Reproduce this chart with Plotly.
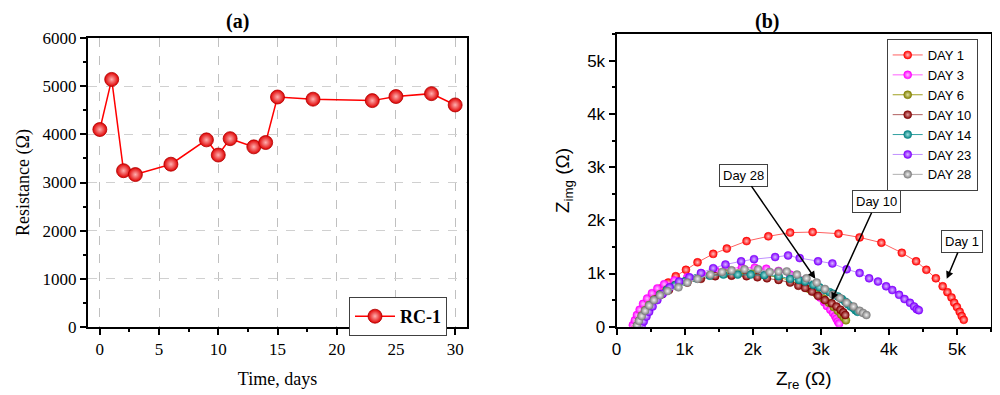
import numpy as np
import plotly.graph_objects as go

# ---------------- Panel (a) data ----------------
days = [0, 1, 2, 3, 6, 9, 10, 11, 13, 14, 15, 18, 23, 25, 28, 30]
resistance = [4100, 5140, 3245, 3165, 3380, 3885, 3570, 3910, 3740, 3830, 4775, 4730, 4700, 4785, 4845, 4610]

# ---------------- Panel (b) data (kOhm) ----------------
d1_re = [0.27, 0.30, 0.33, 0.37, 0.42, 0.49, 0.56, 0.65, 0.76, 0.87, 1.02, 1.19, 1.42, 1.62, 1.91, 2.23, 2.55,
         2.88, 3.26, 3.57, 3.89, 4.19, 4.40, 4.55, 4.69, 4.79, 4.86, 4.92, 4.96, 5.00, 5.04, 5.07, 5.10]
d1_im = [0.03, 0.10, 0.18, 0.27, 0.38, 0.50, 0.61, 0.72, 0.83, 0.95, 1.07, 1.21, 1.37, 1.47, 1.61, 1.70, 1.77,
         1.78, 1.75, 1.68, 1.58, 1.39, 1.23, 1.07, 0.91, 0.76, 0.65, 0.55, 0.45, 0.37, 0.28, 0.20, 0.13]

d3_re = [0.24, 0.27, 0.30, 0.34, 0.39, 0.45, 0.52, 0.60, 0.70, 0.85, 1.04, 1.25, 1.45, 1.61, 1.84, 2.03, 2.20,
         2.38, 2.55, 2.70, 2.83, 2.92, 2.99, 3.05, 3.09, 3.14, 3.18, 3.21, 3.23, 3.25, 3.27]
d3_im = [0.03, 0.12, 0.22, 0.32, 0.43, 0.53, 0.63, 0.72, 0.80, 0.87, 0.93, 1.00, 1.06, 1.10, 1.11, 1.11, 1.09,
         1.05, 0.98, 0.88, 0.76, 0.65, 0.55, 0.46, 0.39, 0.32, 0.26, 0.20, 0.15, 0.10, 0.06]

d6_re = [0.30, 0.33, 0.37, 0.42, 0.48, 0.55, 0.64, 0.74, 0.87, 1.02, 1.20, 1.40, 1.60, 1.80, 2.00, 2.20, 2.38,
         2.55, 2.70, 2.83, 2.94, 3.04, 3.12, 3.19, 3.25, 3.30, 3.34, 3.37]
d6_im = [0.02, 0.11, 0.21, 0.31, 0.41, 0.51, 0.61, 0.70, 0.79, 0.86, 0.92, 0.97, 1.00, 1.01, 1.00, 0.97, 0.93,
         0.87, 0.79, 0.71, 0.62, 0.53, 0.45, 0.37, 0.30, 0.23, 0.17, 0.12]

d10_re = [0.33, 0.36, 0.40, 0.45, 0.51, 0.58, 0.67, 0.77, 0.89, 1.04, 1.24, 1.45, 1.69, 1.91, 2.07, 2.21, 2.38,
          2.55, 2.67, 2.77, 2.87, 2.96, 3.06, 3.16, 3.23, 3.29, 3.33, 3.36]
d10_im = [0.02, 0.11, 0.21, 0.31, 0.41, 0.51, 0.61, 0.69, 0.77, 0.83, 0.90, 0.95, 0.96, 0.95, 0.93, 0.91, 0.88,
          0.83, 0.77, 0.73, 0.66, 0.58, 0.50, 0.44, 0.38, 0.32, 0.27, 0.22]

d14_re = [0.31, 0.34, 0.38, 0.43, 0.49, 0.56, 0.64, 0.74, 0.86, 1.00, 1.17, 1.37, 1.57, 1.78, 1.97, 2.17, 2.38,
          2.55, 2.68, 2.77, 2.89, 2.98, 3.06, 3.13, 3.18, 3.25, 3.31, 3.36, 3.40, 3.44, 3.48, 3.51, 3.54]
d14_im = [0.02, 0.11, 0.20, 0.30, 0.40, 0.50, 0.60, 0.69, 0.78, 0.85, 0.91, 0.96, 0.98, 0.98, 0.98, 0.97, 0.95,
          0.90, 0.88, 0.85, 0.79, 0.74, 0.69, 0.65, 0.62, 0.57, 0.52, 0.47, 0.42, 0.38, 0.35, 0.31, 0.28]

d23_re = [0.37, 0.40, 0.44, 0.48, 0.53, 0.60, 0.68, 0.78, 0.92, 1.07, 1.24, 1.42, 1.60, 1.83, 2.02, 2.33, 2.52,
          2.69, 2.96, 3.17, 3.38, 3.57, 3.71, 3.84, 3.96, 4.05, 4.15, 4.23, 4.31, 4.37, 4.41, 4.44]
d23_im = [0.02, 0.10, 0.19, 0.28, 0.38, 0.50, 0.62, 0.74, 0.85, 0.93, 1.01, 1.10, 1.17, 1.23, 1.27, 1.31, 1.34,
          1.29, 1.23, 1.19, 1.08, 1.01, 0.91, 0.85, 0.76, 0.69, 0.60, 0.52, 0.45, 0.38, 0.33, 0.31]

d28_re = [0.30, 0.33, 0.37, 0.42, 0.48, 0.55, 0.64, 0.75, 0.91, 1.04, 1.19, 1.38, 1.55, 1.69, 1.88, 2.08, 2.25,
          2.38, 2.50, 2.65, 2.79, 2.94, 3.06, 3.18, 3.28, 3.38, 3.48, 3.57, 3.62, 3.67]
d28_im = [0.02, 0.11, 0.20, 0.30, 0.40, 0.50, 0.59, 0.67, 0.74, 0.83, 0.90, 0.98, 1.03, 1.06, 1.08, 1.08, 1.03,
          1.04, 1.04, 0.98, 0.91, 0.83, 0.71, 0.60, 0.54, 0.45, 0.38, 0.30, 0.26, 0.22]

series_names = ["DAY 1", "DAY 3", "DAY 6", "DAY 10", "DAY 14", "DAY 23", "DAY 28"]
series_re = [d1_re, d3_re, d6_re, d10_re, d14_re, d23_re, d28_re]
series_im = [d1_im, d3_im, d6_im, d10_im, d14_im, d23_im, d28_im]
marker_colors = ["#ff0000", "#ff00ff", "#808000", "#800000", "#008080", "#8000ff", "#808080"]
line_colors = ["#ff6060", "#ff60ff", "#a0a020", "#b06060", "#30a0a0", "#c090ff", "#b0b0b0"]
hilite_colors = ["#ffc0c0", "#ffc0ff", "#e0e0a0", "#e0a0a0", "#a0e0e0", "#d8b8ff", "#f0f0f0"]

# annotations (label, tip re, tip im, box re, box im) in kOhm
ann_labels = ["Day 28", "Day 10", "Day 1"]
ann_tip_re = [2.92, 3.16, 4.85]
ann_tip_im = [0.90, 0.50, 0.90]
ann_box_re = [1.87, 3.82, 5.08]
ann_box_im = [2.85, 2.35, 1.60]

xa_ticks = [0, 5, 10, 15, 20, 25, 30]
ya_ticks = [0, 1000, 2000, 3000, 4000, 5000, 6000]
zb_ticks = [0, 1000, 2000, 3000, 4000, 5000]
zb_labels = ["0", "1k", "2k", "3k", "4k", "5k"]

# page has an 8px body margin; the figure is sized to fit the 1000x395 window
OFF = 8
W, H = 1000 - OFF, 395 - OFF


def PX(px):
    return (px - OFF) / W


def PY(py):
    return 1 - (py - OFF) / H


serif = "Liberation Serif"
sans = "Liberation Sans"

fig = go.Figure()

fig.add_trace(go.Scatter(
    x=days, y=resistance, mode="lines+markers", name="<b>RC-1</b>",
    line=dict(color="#ff0000", width=1.5),
    marker=dict(size=14, color="#e00000", line=dict(color="#b00000", width=0.8),
                gradient=dict(type="radial", color="#ffb0b0")),
    xaxis="x", yaxis="y", legend="legend",
))

for name, re, im, mc, lc, hc in zip(series_names, series_re, series_im, marker_colors, line_colors, hilite_colors):
    fig.add_trace(go.Scatter(
        x=np.array(re) * 1000, y=np.array(im) * 1000, mode="lines+markers", name=name,
        line=dict(color=lc, width=1),
        marker=dict(size=8, color=mc, line=dict(color=mc, width=0.5),
                    gradient=dict(type="radial", color=hc)),
        xaxis="x2", yaxis="y2", legend="legend2",
    ))

annotations = [
    dict(text="<b>(a)</b>", x=PX(237), y=PY(21.5), xref="paper", yref="paper", showarrow=False,
         xanchor="center", yanchor="middle",
         font=dict(family=serif, size=20, color="black")),
    dict(text="<b>(b)</b>", x=PX(767), y=PY(21.5), xref="paper", yref="paper", showarrow=False,
         xanchor="center", yanchor="middle",
         font=dict(family=serif, size=20, color="black")),
]
for lab, tx, ty, bx, by in zip(ann_labels, ann_tip_re, ann_tip_im, ann_box_re, ann_box_im):
    annotations.append(dict(
        text=lab, x=tx * 1000, y=ty * 1000, ax=bx * 1000, ay=by * 1000,
        xref="x2", yref="y2", axref="x2", ayref="y2", showarrow=True,
        arrowhead=2, arrowsize=1, arrowwidth=1.5, arrowcolor="black",
        font=dict(family=sans, size=13, color="black"),
        bgcolor="white", bordercolor="#404040", borderwidth=1, borderpad=3,
    ))

fig.update_layout(
    width=W, height=H, margin=dict(l=0, r=0, t=0, b=0, autoexpand=False),
    paper_bgcolor="white", plot_bgcolor="white",
    annotations=annotations,
    xaxis=dict(domain=[PX(88), PX(467)], range=[-1, 31], tickvals=xa_ticks,
               showline=True, linecolor="black", linewidth=2, mirror=True,
               ticks="outside", ticklen=6, tickwidth=1.5, tickcolor="black",
               minor=dict(dtick=2.5, ticks="outside", ticklen=3, tickcolor="black", showgrid=False),
               showgrid=True, gridcolor="#c0c0c0", griddash="dash", gridwidth=1, zeroline=False,
               tickfont=dict(family=serif, size=17, color="black"),
               title=dict(text="Time, days", font=dict(family=serif, size=18, color="black"), standoff=14),
               anchor="y", automargin=False),
    yaxis=dict(domain=[PY(327), PY(38)], range=[0, 6000], tickvals=ya_ticks,
               showline=True, linecolor="black", linewidth=2, mirror=True,
               ticks="outside", ticklen=6, tickwidth=1.5, tickcolor="black",
               minor=dict(dtick=500, ticks="outside", ticklen=3, tickcolor="black", showgrid=False),
               showgrid=True, gridcolor="#d0d0d0", griddash="dash", gridwidth=1, zeroline=False,
               tickfont=dict(family=serif, size=17, color="black"),
               title=dict(text="Resistance (Ω)", font=dict(family=serif, size=18, color="black"), standoff=8),
               anchor="x", automargin=False),
    xaxis2=dict(domain=[PX(616.5), PX(991)], range=[0, 5500], tickvals=zb_ticks, ticktext=zb_labels,
                showline=True, linecolor="black", linewidth=2, mirror=True,
                ticks="outside", ticklen=6, tickwidth=1.5, tickcolor="black",
                minor=dict(dtick=500, ticks="outside", ticklen=3, tickcolor="black", showgrid=False),
                showgrid=False, zeroline=False,
                tickfont=dict(family=sans, size=17, color="black"),
                title=dict(text="Z<sub>re</sub> (Ω)", font=dict(family=sans, size=19, color="black"), standoff=14),
                anchor="y2", automargin=False),
    yaxis2=dict(domain=[PY(326.7), PY(34.3)], range=[0, 5500], tickvals=zb_ticks, ticktext=zb_labels,
                showline=True, linecolor="black", linewidth=2, mirror=True,
                ticks="outside", ticklen=6, tickwidth=1.5, tickcolor="black",
                minor=dict(dtick=500, ticks="outside", ticklen=3, tickcolor="black", showgrid=False),
                showgrid=False, zeroline=False,
                tickfont=dict(family=sans, size=17, color="black"),
                title=dict(text="Z<sub>img</sub> (Ω)", font=dict(family=sans, size=19, color="black"), standoff=12),
                anchor="x2", automargin=False),
    legend=dict(x=PX(349), y=PY(297), xanchor="left", yanchor="top",
                bgcolor="white", bordercolor="#404040", borderwidth=1,
                font=dict(family=serif, size=18, color="black"), itemwidth=40),
    legend2=dict(x=PX(886.7), y=PY(39), xanchor="left", yanchor="top",
                 bgcolor="white", bordercolor="#404040", borderwidth=1,
                 font=dict(family=sans, size=13, color="black"), itemwidth=30, tracegroupgap=0),
    showlegend=True,
)

fig.write_html("out.html")
